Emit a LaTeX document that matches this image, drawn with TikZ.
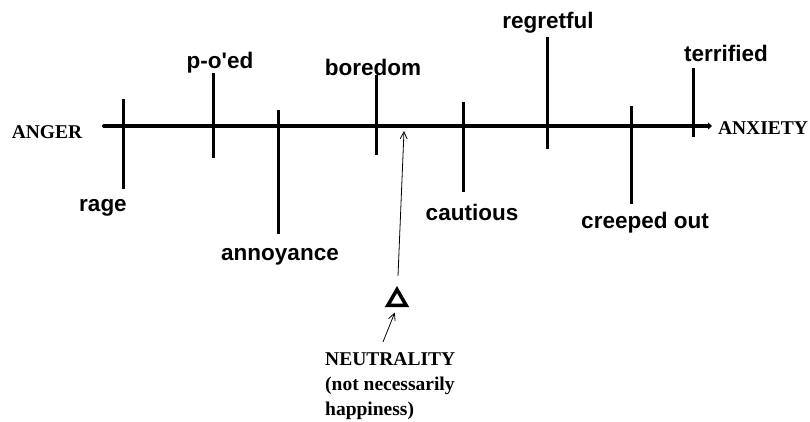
\documentclass[tikz,border=0pt]{standalone}
\usepackage{fontspec}
\setmainfont{Liberation Serif}
\newfontfamily\labelfont{Liberation Sans}
\usetikzlibrary{arrows.meta,positioning,shapes.geometric}

\begin{document}
\begin{tikzpicture}[
  x=1pt,y=-1pt,
  emo/.style={font=\labelfont\bfseries\fontsize{22.5}{26}\selectfont,inner sep=0pt},
  pole/.style={font=\bfseries\fontsize{19.5}{25}\selectfont,inner sep=0pt},
  notch/.style={line width=3pt},
  axis/.style={line width=4pt,line cap=round,-{Triangle[length=4pt,width=7pt]}},
  hand/.style={line width=0.8pt,-{Straight Barb[length=7pt,width=7pt]}},
]
  \useasboundingbox (0,0) rectangle (810,421);

  % The two poles
  \node[pole] (anger)   at (47,132)  {ANGER};
  \node[pole] (anxiety) at (763,128) {ANXIETY};

  % Main axis
  \coordinate (lft) at (104,126);
  \coordinate (rgt) at (712,126);
  \draw[axis] (lft) -- (rgt);

  % Emotion marks, anger side
  \coordinate (rage-t) at (123,99);
  \coordinate (rage-b) at (123,189);
  \draw[notch] (rage-t) -- (rage-b);
  \node[emo] (rage) at (103,208) {rage};

  \coordinate (poed-t) at (213,73);
  \coordinate (poed-b) at (213,158);
  \draw[notch] (poed-t) -- (poed-b);
  \node[emo] (poed) at (220,63) {p-o\textquotesingle ed};

  \coordinate (annoy-t) at (278,110);
  \coordinate (annoy-b) at (278,234);
  \draw[notch] (annoy-t) -- (annoy-b);
  \node[emo] (annoy) at (280,257) {annoyance};

  \coordinate (bore-t) at (376,75);
  \coordinate (bore-b) at (376,155);
  \draw[notch] (bore-t) -- (bore-b);
  \node[emo] (bore) at (373,67) {boredom};

  % Emotion marks, anxiety side
  \coordinate (caut-t) at (463,102);
  \coordinate (caut-b) at (463,192);
  \draw[notch] (caut-t) -- (caut-b);
  \node[emo] (caut) at (472,212) {cautious};

  \coordinate (regr-t) at (547,37);
  \coordinate (regr-b) at (547,149);
  \draw[notch] (regr-t) -- (regr-b);
  \node[emo] (regr) at (548,23) {regretful};

  \coordinate (creep-t) at (631,106);
  \coordinate (creep-b) at (631,204);
  \draw[notch] (creep-t) -- (creep-b);
  \node[emo] (creep) at (645,223) {creeped out};

  \coordinate (terr-t) at (693,68);
  \coordinate (terr-b) at (693,137);
  \draw[notch] (terr-t) -- (terr-b);
  \node[emo] (terr) at (726,53) {terrified};

  % Neutral point
  \node[draw,regular polygon,regular polygon sides=3,line width=3.5pt,
        minimum size=21pt,inner sep=0pt] (delta) at (397,300) {};
  \coordinate (aim) at (404,131);
  \draw[hand,shorten <=11pt] (delta) -- (aim);

  \node[pole,align=left,anchor=base west] (neutral) at (325,415)
    {NEUTRALITY\\(not necessarily\\happiness)};
  \coordinate (nt) at (383,342);
  \draw[hand,shorten >=6pt] (nt) -- (delta.south);
\end{tikzpicture}
\end{document}
